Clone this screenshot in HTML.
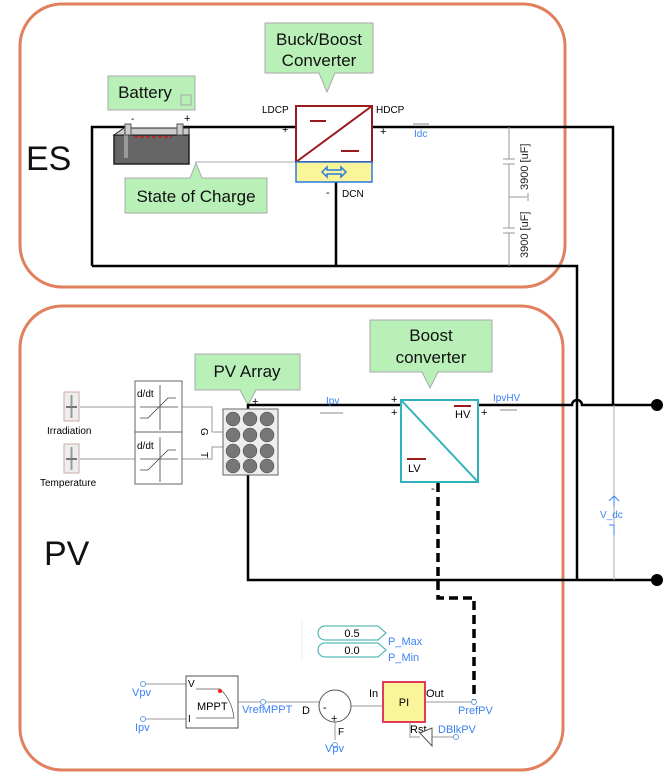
<!DOCTYPE html>
<html><head><meta charset="utf-8"><style>
html,body{margin:0;padding:0;background:#fff;}
svg{display:block;font-family:"Liberation Sans","DejaVu Sans",sans-serif;}
</style></head><body>
<svg width="664" height="779" viewBox="0 0 664 779" xmlns="http://www.w3.org/2000/svg">
<!-- group boxes -->
<rect x="20" y="4" width="545" height="283" rx="42" fill="none" stroke="#e0805e" stroke-width="3"/>
<rect x="20" y="306" width="543" height="464" rx="42" fill="none" stroke="#e0805e" stroke-width="3"/>
<text x="26" y="170" font-size="34" fill="#111">ES</text>
<text x="44" y="565" font-size="34" fill="#111">PV</text>

<!-- ES wires -->
<g stroke="#000" stroke-width="2.5" fill="none">
<path d="M92 266 V127 H130"/>
<path d="M183 127 H296"/>
<path d="M372 127 H613 V405"/>
<path d="M92 266 H577 V580"/>
<path d="M336 182 V266"/>
</g>
<line x1="195" y1="162" x2="296" y2="162" stroke="#aaa" stroke-width="1"/>
<!-- capacitor -->
<g stroke="#999" stroke-width="1" fill="none">
<line x1="509" y1="127" x2="509" y2="159"/><line x1="503" y1="159" x2="515" y2="159"/><line x1="503" y1="164" x2="515" y2="164"/><line x1="509" y1="164" x2="509" y2="228"/>
<line x1="503" y1="228" x2="515" y2="228"/><line x1="503" y1="233" x2="515" y2="233"/><line x1="509" y1="233" x2="509" y2="266"/>
<line x1="509" y1="197" x2="527" y2="197"/><line x1="528" y1="193" x2="528" y2="201"/>
</g>
<text transform="translate(528,190) rotate(-90)" font-size="11" fill="#222">3900 [uF]</text>
<text transform="translate(528,258) rotate(-90)" font-size="11" fill="#222">3900 [uF]</text>

<!-- battery -->
<rect x="114" y="135" width="75" height="29" fill="#666" stroke="#222" stroke-width="1.5"/>
<polygon points="114,135 124,128 189,128 189,135" fill="#ccc" stroke="#222"/>
<rect x="124" y="128" width="4" height="30" fill="#999"/>
<rect x="125" y="124" width="6" height="11" fill="#ccc" stroke="#555"/>
<rect x="177" y="124" width="6" height="11" fill="#ccc" stroke="#555"/>
<line x1="134" y1="137" x2="172" y2="137" stroke="#b22" stroke-width="1.5" stroke-dasharray="4,2"/>
<text x="131" y="122" font-size="10">-</text><text x="184" y="122" font-size="11">+</text>

<!-- buck/boost converter -->
<rect x="296" y="106" width="76" height="56" fill="#fff" stroke="#9a1b1b" stroke-width="2"/>
<line x1="296" y1="162" x2="372" y2="106" stroke="#9a1b1b" stroke-width="2"/>
<line x1="310" y1="121" x2="326" y2="121" stroke="#9a1b1b" stroke-width="2"/>
<line x1="341" y1="151" x2="359" y2="151" stroke="#9a1b1b" stroke-width="2"/>
<rect x="296" y="162" width="76" height="20" fill="#fbf59a" stroke="#2a7be0" stroke-width="1.5"/>
<path d="M322 172 l5 -5 v3 h14 v-3 l5 5 l-5 5 v-3 h-14 v3 z" fill="none" stroke="#2a7be0" stroke-width="1.5"/>
<text x="262" y="113" font-size="10">LDCP</text><text x="376" y="113" font-size="10">HDCP</text>
<text x="282" y="133" font-size="11">+</text><text x="380" y="135" font-size="11">+</text>
<text x="326" y="196" font-size="11">-</text><text x="342" y="197" font-size="10">DCN</text>
<line x1="413" y1="124" x2="429" y2="124" stroke="#888"/><text x="414" y="137" font-size="10" fill="#3b82f6">Idc</text>

<!-- callouts -->
<g fill="#b8f0b8" stroke="#aaa" stroke-width="1">
<path d="M265 23 H373 V73 H335 L327 92 L319 73 H265 Z"/>
<rect x="108" y="76" width="87" height="34"/>
<path d="M125 178 H190 L196 163 L202 178 H267 V213 H125 Z"/>
<path d="M195 354 H300 V390 H256 L248 405 L240 390 H195 Z"/>
<path d="M370 320 H492 V372 H438 L430 388 L422 372 H370 Z"/>
</g>
<rect x="181" y="95" width="10" height="10" fill="none" stroke="#aaa"/>
<g font-size="17" fill="#111" text-anchor="middle">
<text x="319" y="45">Buck/Boost</text><text x="319" y="66">Converter</text>
<text x="145" y="98">Battery</text>
<text x="196" y="202">State of Charge</text>
<text x="247" y="377">PV Array</text>
<text x="431" y="341">Boost</text><text x="431" y="363">converter</text>
</g>

<!-- PV wires -->
<g stroke="#000" stroke-width="2.5" fill="none">
<path d="M248 410 V405 H401"/>
<path d="M478 405 H572 a5 5 0 0 1 10 0 H656"/>
<path d="M248 475 V580 H656"/>
</g>
<circle cx="657" cy="405" r="6" fill="#000"/><circle cx="657" cy="580" r="6" fill="#000"/>
<line x1="614" y1="405" x2="614" y2="580" stroke="#aaa" stroke-width="1"/>
<path d="M609 501 l5 -5 l5 5 M614 496 v10 M609 525 h5 v10" fill="none" stroke="#3b82f6"/>
<text x="600" y="518" font-size="10" fill="#3b82f6">V_dc</text>
<path d="M438 483 V598 H474 V702" fill="none" stroke="#000" stroke-width="3.5" stroke-dasharray="9,5"/>
<line x1="320" y1="413" x2="343" y2="413" stroke="#888"/><text x="326" y="404" font-size="10" fill="#3b82f6">Ipv</text>
<line x1="500" y1="410" x2="517" y2="410" stroke="#888"/><text x="493" y="401" font-size="10" fill="#3b82f6">IpvHV</text>

<!-- boost converter block -->
<rect x="401" y="400" width="77" height="82" fill="#fff" stroke="#2fb3b8" stroke-width="2"/>
<line x1="401" y1="400" x2="478" y2="482" stroke="#2fb3b8" stroke-width="2"/>
<line x1="454" y1="406" x2="471" y2="406" stroke="#9a1b1b" stroke-width="2"/><text x="455" y="418" font-size="11">HV</text>
<line x1="407" y1="459" x2="426" y2="459" stroke="#9a1b1b" stroke-width="2"/><text x="408" y="472" font-size="11">LV</text>
<text x="391" y="403" font-size="11">+</text><text x="391" y="416" font-size="11">+</text><text x="481" y="416" font-size="11">+</text>
<text x="431" y="492" font-size="11">-</text>

<!-- sliders -->
<g>
<rect x="64" y="392" width="15" height="29" fill="#eee" stroke="#caa"/>
<line x1="71.5" y1="395" x2="71.5" y2="418" stroke="#999" stroke-width="2"/><line x1="66" y1="407" x2="77" y2="407" stroke="#777" stroke-width="2"/>
<rect x="64" y="444" width="15" height="29" fill="#eee" stroke="#caa"/>
<line x1="71.5" y1="447" x2="71.5" y2="470" stroke="#999" stroke-width="2"/><line x1="66" y1="459" x2="77" y2="459" stroke="#777" stroke-width="2"/>
</g>
<text x="47" y="434" font-size="10">Irradiation</text><text x="40" y="486" font-size="10">Temperature</text>
<g stroke="#999" fill="none" stroke-width="1">
<path d="M80 407 H135 M80 459 H135"/>
<path d="M182 407 H212 V432 H223 M182 459 H212 V447 H223"/>
</g>
<rect x="135" y="381" width="47" height="103" fill="#fff" stroke="#666"/>
<line x1="135" y1="432" x2="182" y2="432" stroke="#666"/>
<g stroke="#444" fill="none" stroke-width="0.8">
<path d="M160 385 V430 M140 407 H178 M140 418 h8 l20 -20 h8"/>
<path d="M160 437 V482 M140 459 H178 M140 470 h8 l20 -20 h8"/>
</g>
<text x="137" y="397" font-size="10">d/dt</text><text x="137" y="449" font-size="10">d/dt</text>
<text transform="translate(201,428) rotate(90)" font-size="10">G</text>
<text transform="translate(201,452) rotate(90)" font-size="10">T</text>
<!-- PV array -->
<rect x="223" y="409" width="55" height="66" fill="#eee" stroke="#666"/>
<g fill="#777" stroke="#444" stroke-width="0.5">
<circle cx="233" cy="419" r="7"/><circle cx="250" cy="419" r="7"/><circle cx="267" cy="419" r="7"/>
<circle cx="233" cy="435" r="7"/><circle cx="250" cy="435" r="7"/><circle cx="267" cy="435" r="7"/>
<circle cx="233" cy="451" r="7"/><circle cx="250" cy="451" r="7"/><circle cx="267" cy="451" r="7"/>
<circle cx="233" cy="466" r="7"/><circle cx="250" cy="466" r="7"/><circle cx="267" cy="466" r="7"/>
</g>
<text x="252" y="405" font-size="11">+</text>

<!-- control section -->
<line x1="302" y1="620" x2="302" y2="660" stroke="#eee"/>
<path d="M325 626 H378 L386 633 L378 640 H325 a7 7 0 0 1 0 -14 Z" fill="#fff" stroke="#3aa" />
<path d="M325 643 H378 L386 650 L378 657 H325 a7 7 0 0 1 0 -14 Z" fill="#fff" stroke="#3aa"/>
<text x="352" y="637" font-size="11" text-anchor="middle">0.5</text><text x="352" y="654" font-size="11" text-anchor="middle">0.0</text>
<text x="388" y="645" font-size="11" fill="#3b82f6">P_Max</text><text x="388" y="661" font-size="11" fill="#3b82f6">P_Min</text>
<g stroke="#999" fill="none">
<path d="M142 684 H186 M142 719 H186 M238 702 H319 M351 706 H383 M425 702 H474 M335 722 V740"/>
<path d="M410 722 V737 H420 M430 737 H455"/>
</g>
<g fill="#fff" stroke="#6ca0e0"><circle cx="143" cy="684" r="2.5"/><circle cx="143" cy="719" r="2.5"/><circle cx="263" cy="702" r="2.5"/><circle cx="474" cy="702" r="2.5"/><circle cx="335" cy="745" r="2.5"/><circle cx="456" cy="737" r="2.5"/></g>
<text x="132" y="696" font-size="11" fill="#3b82f6">Vpv</text><text x="135" y="731" font-size="11" fill="#3b82f6">Ipv</text>
<text x="242" y="713" font-size="11" fill="#3b82f6">VrefMPPT</text><text x="325" y="752" font-size="11" fill="#3b82f6">Vpv</text>
<text x="458" y="714" font-size="11" fill="#3b82f6">PrefPV</text><text x="438" y="733" font-size="11" fill="#3b82f6">DBlkPV</text>
<rect x="186" y="676" width="52" height="52" fill="#fff" stroke="#555"/>
<path d="M196 689 H220 Q232 700 234 718 H196" fill="none" stroke="#555" stroke-width="0.8"/>
<circle cx="220" cy="691" r="2" fill="#e22"/>
<text x="188" y="687" font-size="10">V</text><text x="188" y="722" font-size="10">I</text>
<text x="197" y="710" font-size="11">MPPT</text>
<circle cx="335" cy="706" r="16" fill="#fff" stroke="#555"/>
<text x="323" y="711" font-size="11">-</text><text x="331" y="722" font-size="11">+</text>
<text x="302" y="714" font-size="11">D</text><text x="338" y="735" font-size="10">F</text>
<text x="369" y="697" font-size="11">In</text><text x="426" y="697" font-size="11">Out</text>
<rect x="383" y="682" width="42" height="40" fill="#fbf59a" stroke="#e23a5a" stroke-width="2"/>
<text x="404" y="706" font-size="11" text-anchor="middle">PI</text>
<text x="410" y="733" font-size="11">Rst</text>
<path d="M420 733 L432 728 L432 746 Z" fill="#fff" stroke="#555"/>
</svg>
</body></html>
